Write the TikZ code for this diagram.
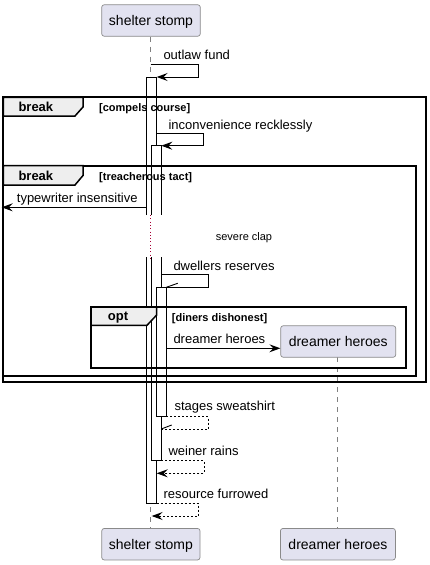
\documentclass[tikz,border=0pt]{standalone}
\usepackage{fontspec}
\setmainfont{Liberation Sans}
\usetikzlibrary{arrows.meta}
\definecolor{partfill}{HTML}{E2E2F0}
\definecolor{partline}{HTML}{8A8A8A}
\definecolor{tabfill}{HTML}{EEEEEE}
\definecolor{delayc}{HTML}{A80036}
\begin{document}
\begin{tikzpicture}[x=1pt,y=-1pt,
  participant/.style={draw=partline, fill=partfill, rounded corners=2.5pt, line width=0.7pt,
    inner sep=0pt, minimum height=31.5pt, text height=10pt, text depth=0pt,
    font=\fontsize{14}{16}\selectfont},
  msg/.style={line width=0.9pt},
  ret/.style={msg, dash pattern=on 2pt off 2pt},
  tip/.style={-{Stealth[length=11pt,width=8pt,inset=4pt]}},
  msglabel/.style={anchor=base west, inner sep=0pt, font=\fontsize{13}{15}\selectfont},
  frame/.style={line width=1.8pt},
  tab/.style={fill=tabfill, line width=1.5pt},
  framekw/.style={anchor=base west, inner sep=0pt, font=\fontsize{13}{15}\selectfont\bfseries},
  framecond/.style={anchor=base west, inner sep=0pt, font=\fontsize{11}{13}\selectfont\bfseries},
  barline/.style={draw=black, line width=0.9pt},
  lifeline/.style={draw=gray, line width=0.8pt, dash pattern=on 5pt off 5pt}]

\useasboundingbox (0,0) rectangle (430,565);

% participants
\node[participant, minimum width=98.6pt] (ssTop) at (151,20.5) {shelter stomp};
\node[participant, minimum width=98.3pt] (ssBot) at (150.9,544.2) {shelter stomp};
\node[participant, minimum width=115pt] (dhBot) at (337.9,544.2) {dreamer heroes};

% lifelines
\coordinate (gapTop) at (150.7,215);
\coordinate (gapBot) at (150.7,257);
\draw[lifeline] (ssTop.south -| gapTop) -- (gapTop);
\draw[lifeline] (gapBot) -- (ssBot.north -| gapBot);
\coordinate (dhLife) at (337.7,357.3);
\draw[lifeline] (dhLife) -- (dhBot.north -| dhLife);

% activation bar 1
\fill[white] (146.7,77) rectangle (156.7,215);
\draw[barline] (146.7,215) -- (146.7,77) -- (156.7,77) -- (156.7,215);
\fill[white] (146.7,257) rectangle (156.7,503.5);
\draw[barline] (146.7,257) -- (146.7,503.5) -- (156.7,503.5) -- (156.7,257);
% activation bar 2
\fill[white] (151.3,145.7) rectangle (161.3,215);
\draw[barline] (151.3,215) -- (151.3,145.7) -- (161.3,145.7) -- (161.3,215);
\fill[white] (151.3,257) rectangle (161.3,460.7);
\draw[barline] (151.3,257) -- (151.3,460.7) -- (161.3,460.7) -- (161.3,257);
% activation bar 3
\filldraw[fill=white, barline] (156.7,287.3) rectangle (166.3,416.7);

% delay
\draw[delayc, line width=1pt, dash pattern=on 1pt off 2.3pt] (150.3,215) -- (150.3,260);
\node[anchor=base, inner sep=0pt, font=\fontsize{11}{13}\selectfont] (delayText) at (244,240) {severe clap};

% frames
\draw[frame] (3.3,97.3) rectangle (425.7,381.7);
\draw[tab] (3.3,97.3) -- (83,97.3) -- (83,107) -- (75,116) -- (3.3,116) -- cycle;
\node[framekw] (f1kw) at (18.3,111.7) {break};
\node[framecond] (f1c) at (99,111.3) {[compels course]};

\draw[frame] (3.3,165.7) rectangle (415.7,376);
\draw[tab] (3.3,165.7) -- (83,165.7) -- (83,175.5) -- (75,185) -- (3.3,185) -- cycle;
\node[framekw] (f2kw) at (18.3,180.5) {break};
\node[framecond] (f2c) at (99,180.2) {[treacherous tact]};

\draw[frame] (91,307) rectangle (405.7,368.3);
\draw[tab] (91,307) -- (156.7,307) -- (156.7,315) -- (147,325.3) -- (91,325.3) -- cycle;
\node[framekw] (f3kw) at (107.7,320.7) {opt};
\node[framecond] (f3c) at (171.7,321) {[diners dishonest]};

% created participant
\node[participant, minimum width=115pt] (dhMid) at (338.2,341.5) {dreamer heroes};

% messages
\coordinate (m1s) at (150.7,64.3);  \coordinate (m1e) at (156.7,77);
\draw[msg,tip] (m1s) -- (198.7,64.3) |- (m1e);
\node[msglabel] (m1l) at (163.3,59.5) {outlaw fund};

\coordinate (m2s) at (156.7,133.3); \coordinate (m2e) at (161.3,145.7);
\draw[msg,tip] (m2s) -- (203.3,133.3) |- (m2e);
\node[msglabel] (m2l) at (168.3,129) {inconvenience recklessly};

\coordinate (m3s) at (146.7,207.3); \coordinate (m3e) at (1.7,207.3);
\draw[msg,tip] (m3s) -- (m3e);
\node[msglabel] (m3l) at (16.7,202) {typewriter insensitive};

\coordinate (m5s) at (161.3,274.7); \coordinate (m5e) at (166.3,287.3);
\draw[msg] (m5s) -- (208.3,274.7) |- (m5e);
\draw[msg] (m5e) -- ++(11.4,-4);
\node[msglabel] (m5l) at (173.3,270) {dwellers reserves};

\coordinate (m6s) at (166.3,348.3);
\draw[msg,tip] (m6s) -- (m6s -| dhMid.west);
\node[msglabel] (m6l) at (173.3,343) {dreamer heroes};

\coordinate (m7s) at (166.3,416.7); \coordinate (m7e) at (161.3,429);
\draw[ret] (m7s) -- (208.3,416.7) |- (m7e);
\draw[msg] (m7e) -- ++(10.4,-4);
\node[msglabel] (m7l) at (174.3,410.5) {stages sweatshirt};

\coordinate (m8s) at (161.3,460.7); \coordinate (m8e) at (156.7,473.3);
\draw[ret,tip] (m8s) -- (204,460.7) |- (m8e);
\node[msglabel] (m8l) at (168.3,455) {weiner rains};

\coordinate (m9s) at (156.7,503.3); \coordinate (m9e) at (151.7,516);
\draw[ret,tip] (m9s) -- (198.3,503.3) |- (m9e);
\node[msglabel] (m9l) at (163.3,498.3) {resource furrowed};

\end{tikzpicture}
\end{document}
